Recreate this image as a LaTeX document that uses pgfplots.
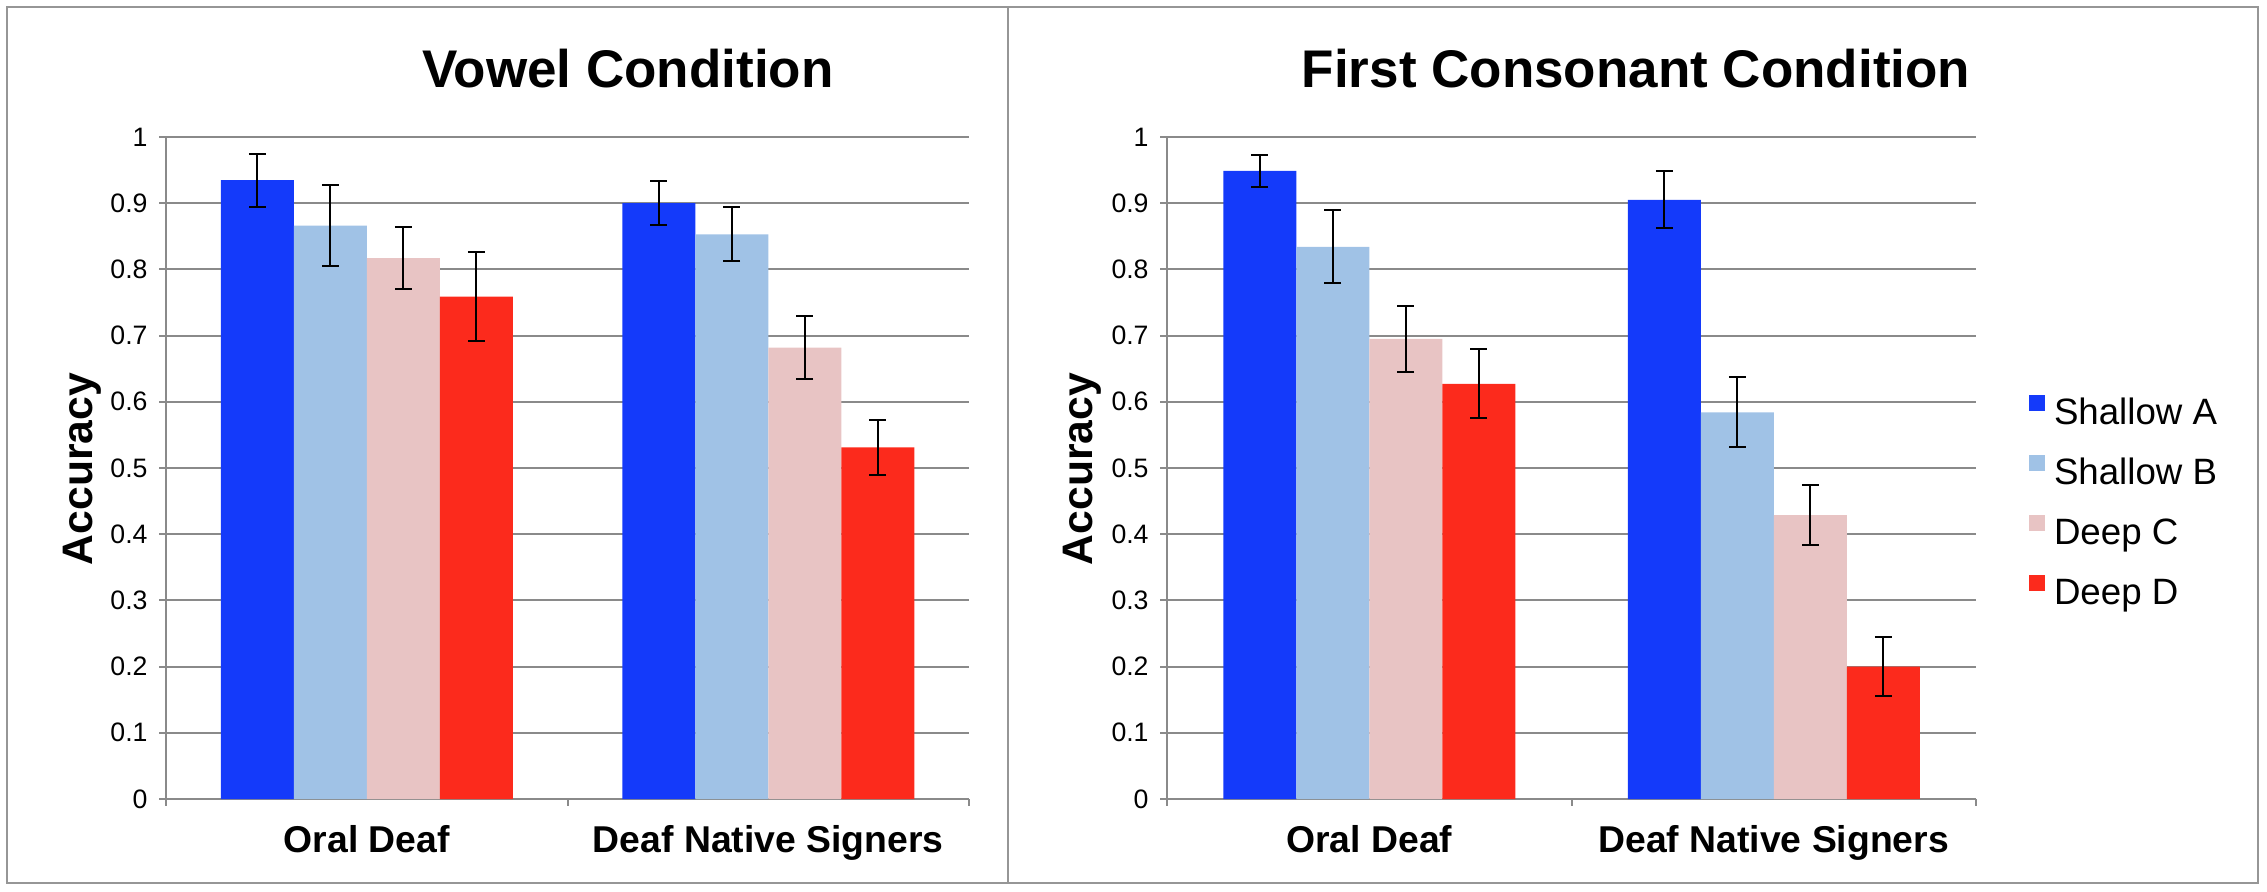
\documentclass[border=0pt]{standalone}
\usepackage{fontspec}
\setmainfont{Liberation Sans}
\usepackage{pgfplots}
\pgfplotsset{compat=1.18}
\definecolor{shA}{RGB}{20,58,250}
\definecolor{shB}{RGB}{160,194,230}
\definecolor{dpC}{RGB}{232,196,196}
\definecolor{dpD}{RGB}{252,42,28}
\definecolor{gridgray}{RGB}{138,138,138}
\definecolor{framegray}{RGB}{150,150,150}
\pgfplotsset{
  mylegend/.style={legend image code/.code={\fill[##1,draw=none] (0pt,1.2pt) rectangle (4.8pt,6.0pt);}},
  myaxis/.style={
    scale only axis, anchor=south west,
    height=198.6pt,
    ymin=0, ymax=1, xmin=-0.5, xmax=1.5,
    enlargelimits=false,
    axis lines*=left,
    axis line style={draw=gridgray, line width=0.6pt},
    ymajorgrids, grid style={draw=gridgray, line width=0.6pt},
    ytick={0,0.1,0.2,0.3,0.4,0.5,0.6,0.7,0.8,0.9,1},
    yticklabels={0,0.1,0.2,0.3,0.4,0.5,0.6,0.7,0.8,0.9,1},
    yticklabel style={font=\fontsize{8}{9}\selectfont},
    tick align=outside, major tick length=2pt,
    tick style={draw=gridgray, line width=0.6pt},
    xtick={-0.5,0.5,1.5}, x tick label as interval,
    xticklabels={Oral Deaf, Deaf Native Signers},
    xticklabel style={font=\bfseries\fontsize{11.2}{13}\selectfont, anchor=base, yshift=-14pt},
    ybar, bar width=21.9pt,
    clip=false,
    error bars/y dir=both, error bars/y explicit,
    error bars/error bar style={black, line width=0.6pt},
    error bars/error mark options={rotate=90, black, mark size=2.5pt, line width=0.6pt},
  }
}
\begin{document}
\begin{tikzpicture}
\useasboundingbox (0,0) rectangle (680.1pt,267.6pt);
\draw[framegray, line width=0.7pt] (2.1pt,2.7pt) rectangle (677.4pt,265.5pt);
\draw[framegray, line width=0.7pt] (302.4pt,2.7pt) -- (302.4pt,265.5pt);
\node[anchor=base, font=\bfseries\fontsize{15.9}{18}\selectfont] at (188.4pt,241.2pt) {Vowel Condition};
\node[anchor=base, font=\bfseries\fontsize{15.9}{18}\selectfont] at (490.8pt,241.2pt) {First Consonant Condition};
\node[rotate=90, anchor=base, font=\bfseries\fontsize{12.8}{15}\selectfont] at (27.6pt,126.9pt) {Accuracy};
\node[rotate=90, anchor=base, font=\bfseries\fontsize{12.8}{15}\selectfont] at (327.6pt,126.9pt) {Accuracy};

\begin{axis}[myaxis, at={(49.8pt,27.9pt)}, width=240.9pt]
\addplot[fill=shA, draw=none, bar shift=-32.85pt, mylegend] coordinates {(0,0.935) +- (0,0.040) (1,0.900) +- (0,0.033)};
\addplot[fill=shB, draw=none, bar shift=-10.95pt, mylegend] coordinates {(0,0.866) +- (0,0.061) (1,0.853) +- (0,0.041)};
\addplot[fill=dpC, draw=none, bar shift=10.95pt, mylegend] coordinates {(0,0.817) +- (0,0.047) (1,0.682) +- (0,0.047)};
\addplot[fill=dpD, draw=none, bar shift=32.85pt, mylegend] coordinates {(0,0.759) +- (0,0.067) (1,0.531) +- (0,0.042)};
\end{axis}

\begin{axis}[myaxis, at={(350.1pt,27.9pt)}, width=242.7pt,
  legend style={at={(1.0655,0.611)}, anchor=north west, draw=none, fill=none,
    inner sep=0pt, outer sep=0pt, font=\fontsize{11}{13}\selectfont, row sep=6pt,
    nodes={inner sep=0pt, text height=9pt, text depth=3pt},
    /tikz/every odd column/.append style={column sep=2.7pt}},
  legend cell align=left]
\addplot[fill=shA, draw=none, bar shift=-32.85pt, mylegend] coordinates {(0,0.949) +- (0,0.024) (1,0.905) +- (0,0.043)};
\addplot[fill=shB, draw=none, bar shift=-10.95pt, mylegend] coordinates {(0,0.834) +- (0,0.055) (1,0.584) +- (0,0.053)};
\addplot[fill=dpC, draw=none, bar shift=10.95pt, mylegend] coordinates {(0,0.695) +- (0,0.050) (1,0.429) +- (0,0.045)};
\addplot[fill=dpD, draw=none, bar shift=32.85pt, mylegend] coordinates {(0,0.627) +- (0,0.052) (1,0.200) +- (0,0.045)};
\legend{Shallow A, Shallow B, Deep C, Deep D}
\end{axis}
\end{tikzpicture}
\end{document}
